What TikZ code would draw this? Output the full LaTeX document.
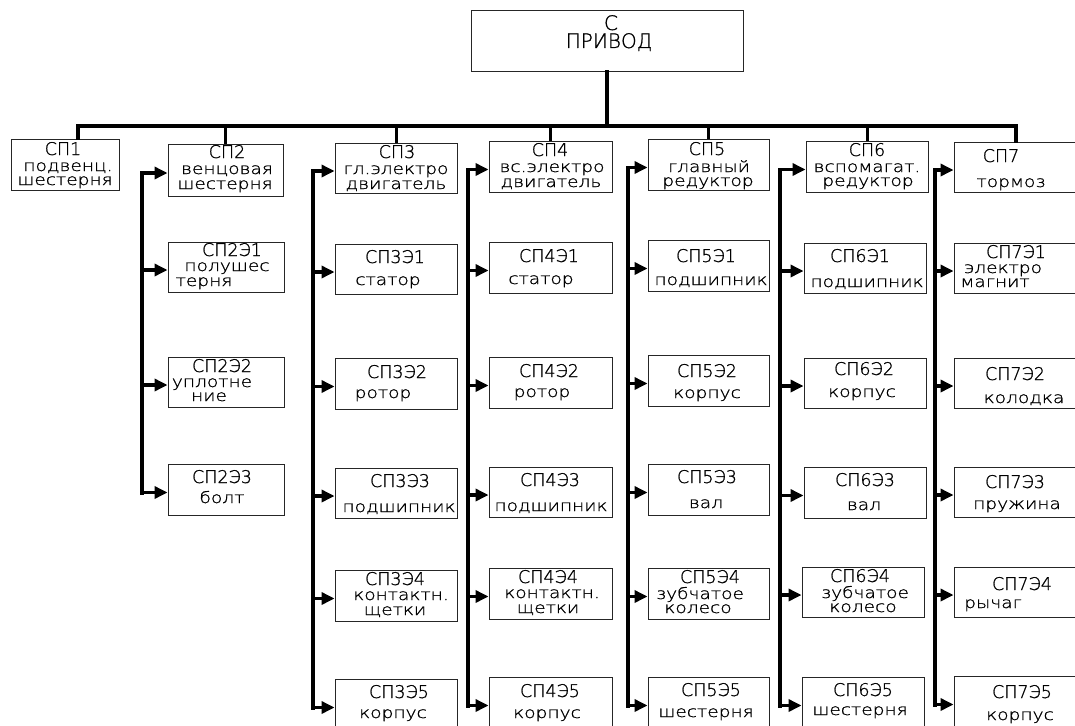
\documentclass[tikz,border=0pt]{standalone}
\usepackage{fontspec}
\usetikzlibrary{arrows.meta}
\newfontfamily\capfont{DejaVuSans-ExtraLight.ttf}[FakeBold=1]
\newfontfamily\smallfont{DejaVuSans-ExtraLight.ttf}[FakeStretch=1.2,FakeBold=1]

\tikzset{
  box/.style={draw=black!85, line width=0.9pt, rectangle, inner sep=0pt},
  code/.style={anchor=base, inner sep=0pt, font=\capfont\fontsize{17.5}{17.5}\selectfont},
  low/.style={anchor=base, inner sep=0pt, font=\smallfont\fontsize{15.5}{15.5}\selectfont},
  title/.style={anchor=base, inner sep=0pt, font=\capfont\fontsize{20}{20}\selectfont},
  bus/.style={line width=3.5pt, line cap=rect},
  trunk/.style={line width=4pt, line cap=rect},
  feed/.style={line width=3.5pt, -{Triangle[length=13pt,width=12pt]}}
}

% box node from its corners: name, x1, y1, x2, y2
\newcommand\blk[5]{\node[box, minimum width={(#4-#2)*1pt}, minimum height={(#5-#3)*1pt}] (#1) at ({(#2+#4)/2},{(#3+#5)/2}) {};}
% arrow from a column trunk to a box
\newcommand\feed[2]{\draw[feed] ([yshift=-3pt]#2.west -| #1) -- ([yshift=-3pt]#2.west);}
% column trunk from the first to the last box
\newcommand\trunkline[3]{\draw[trunk] ([yshift=-3pt]#2.west -| #1) -- ([yshift=-3pt]#3.west -| #1);}

\begin{document}
\begin{tikzpicture}[x=1pt, y=-1pt]
\fill[white] (0,0) rectangle (1075,725);
\useasboundingbox (0,0) rectangle (1075,725);

% root
\blk{root}{471}{10}{743}{71}
\node[title] (roota) at (611,30) {С};
\node[title] (rootb) at (609,48) {ПРИВОД};

% first level
\blk{b1}{11}{139}{119}{190}
\node[code] (b1a) at (63,155) {СП1};
\node[low] (b1b) at (68,171) {подвенц.};
\node[low] (b1c) at (65,185) {шестерня};

\blk{b2}{168}{144}{283}{196}
\node[code] (b2a) at (227,158) {СП2};
\node[low] (b2b) at (227,174) {венцовая};
\node[low] (b2c) at (225,189) {шестерня};

\blk{b3}{335}{143}{457}{193}
\node[code] (b3a) at (397,158) {СП3};
\node[low] (b3b) at (396,174) {гл.электро};
\node[low] (b3c) at (396,189) {двигатель};

\blk{b4}{489}{141}{612}{192}
\node[code] (b4a) at (550,156) {СП4};
\node[low] (b4b) at (552,172) {вс.электро};
\node[low] (b4c) at (551,187) {двигатель};

\blk{b5}{648}{139}{769}{190}
\node[code] (b5a) at (707,155) {СП5};
\node[low] (b5b) at (709,172) {главный};
\node[low] (b5c) at (708,186) {редуктор};

\blk{b6}{806}{141}{928}{192}
\node[code] (b6a) at (867,156) {СП6};
\node[low] (b6b) at (867,172) {вспомагат.};
\node[low] (b6c) at (868,186) {редуктор};

\blk{b7}{954}{142}{1078}{192}
\node[code] (b7a) at (1001,162) {СП7};
\node[low] (b7b) at (1011,187) {тормоз};

% row 1
\blk{b21}{168}{242}{284}{292}
\node[code] (b21a) at (232,256) {СП2Э1};
\node[low] (b21b) at (227,271) {полушес};
\node[low] (b21c) at (204,286) {терня};

\blk{b31}{335}{244}{457}{294}
\node[code] (b31a) at (395,263) {СП3Э1};
\node[low] (b31b) at (388,285) {статор};

\blk{b41}{489}{242}{612}{293}
\node[code] (b41a) at (549,262) {СП4Э1};
\node[low] (b41b) at (541,284) {статор};

\blk{b51}{648}{240}{769}{291}
\node[code] (b51a) at (706,262) {СП5Э1};
\node[low] (b51b) at (711,285) {подшипник};

\blk{b61}{804}{243}{926}{293}
\node[code] (b61a) at (860,262) {СП6Э1};
\node[low] (b61b) at (867,287) {подшипник};

\blk{b71}{954}{243}{1078}{293}
\node[code] (b71a) at (1016,258) {СП7Э1};
\node[low] (b71b) at (1003,273) {электро};
\node[low] (b71c) at (995,287) {магнит};

% row 2
\blk{b22}{168}{357}{284}{407}
\node[code] (b22a) at (222,372) {СП2Э2};
\node[low] (b22b) at (212,387) {уплотне};
\node[low] (b22c) at (209,401) {ние};

\blk{b32}{335}{358}{457}{409}
\node[code] (b32a) at (397,378) {СП3Э2};
\node[low] (b32b) at (383,398) {ротор};

\blk{b42}{489}{357}{612}{408}
\node[code] (b42a) at (549,377) {СП4Э2};
\node[low] (b42b) at (542,397) {ротор};

\blk{b52}{648}{355}{769}{406}
\node[code] (b52a) at (707,377) {СП5Э2};
\node[low] (b52b) at (707,398) {корпус};

\blk{b62}{804}{358}{926}{408}
\node[code] (b62a) at (864,375) {СП6Э2};
\node[low] (b62b) at (862,397) {корпус};

\blk{b72}{954}{358}{1078}{408}
\node[code] (b72a) at (1015,380) {СП7Э2};
\node[low] (b72b) at (1024,403) {колодка};

% row 3
\blk{b23}{168}{464}{284}{515}
\node[code] (b23a) at (222,483) {СП2Э3};
\node[low] (b23b) at (222,503) {болт};

\blk{b33}{335}{468}{457}{518}
\node[code] (b33a) at (400,487) {СП3Э3};
\node[low] (b33b) at (399,512) {подшипник};

\blk{b43}{489}{467}{612}{517}
\node[code] (b43a) at (550,486) {СП4Э3};
\node[low] (b43b) at (551,511) {подшипник};

\blk{b53}{648}{464}{769}{515}
\node[code] (b53a) at (707,483) {СП5Э3};
\node[low] (b53b) at (706,508) {вал};

\blk{b63}{804}{467}{926}{518}
\node[code] (b63a) at (865,486) {СП6Э3};
\node[low] (b63b) at (864,510) {вал};

\blk{b73}{954}{467}{1078}{517}
\node[code] (b73a) at (1015,488) {СП7Э3};
\node[low] (b73b) at (1017,509) {пружина};

% row 4
\blk{b34}{335}{570}{457}{621}
\node[code] (b34a) at (395,585) {СП3Э4};
\node[low] (b34b) at (401,600) {контактн.};
\node[low] (b34c) at (395,615) {щетки};

\blk{b44}{489}{568}{612}{619}
\node[code] (b44a) at (548,583) {СП4Э4};
\node[low] (b44b) at (552,598) {контактн.};
\node[low] (b44c) at (548,613) {щетки};

\blk{b54}{648}{568}{769}{619}
\node[code] (b54a) at (710,583) {СП5Э4};
\node[low] (b54b) at (700,599) {зубчатое};
\node[low] (b54c) at (698,613) {колесо};

\blk{b64}{802}{567}{924}{617}
\node[code] (b64a) at (860,582) {СП6Э4};
\node[low] (b64b) at (865,598) {зубчатое};
\node[low] (b64c) at (863,612) {колесо};

\blk{b74}{954}{567}{1078}{617}
\node[code] (b74a) at (1022,590) {СП7Э4};
\node[low] (b74b) at (993,608) {рычаг};

% row 5
\blk{b35}{335}{679}{457}{730}
\node[code] (b35a) at (399,698) {СП3Э5};
\node[low] (b35b) at (393,718) {корпус};

\blk{b45}{489}{677}{612}{728}
\node[code] (b45a) at (550,697) {СП4Э5};
\node[low] (b45b) at (547,718) {корпус};

\blk{b55}{648}{677}{769}{728}
\node[code] (b55a) at (711,696) {СП5Э5};
\node[low] (b55b) at (706,717) {шестерня};

\blk{b65}{802}{677}{924}{728}
\node[code] (b65a) at (863,696) {СП6Э5};
\node[low] (b65b) at (860,715) {шестерня};

\blk{b75}{954}{676}{1078}{727}
\node[code] (b75a) at (1022,698) {СП7Э5};
\node[low] (b75b) at (1020,720) {корпус};

% main bus
\coordinate (busy) at (0,126);
\draw[bus] (root.south) -- (root.south |- busy);
\draw[bus] ([xshift=13pt]b1.north) -- ([xshift=13pt]b1.north |- busy) -- (b7.north |- busy) -- (b7.north);
\foreach \b in {b2,b3,b4,b5,b6}
  \draw[line width=3pt] (\b.north |- busy) -- (\b.north);

% column trunks
\coordinate (c2) at (142,0);
\coordinate (c3) at (313,0);
\coordinate (c4) at (468,0);
\coordinate (c5) at (628,0);
\coordinate (c6) at (780,0);
\coordinate (c7) at (935,0);

\trunkline{c2}{b2}{b23}
\trunkline{c3}{b3}{b35}
\trunkline{c4}{b4}{b45}
\trunkline{c5}{b5}{b55}
\trunkline{c6}{b6}{b65}
\trunkline{c7}{b7}{b75}

\foreach \b in {b2,b21,b22,b23} {\feed{c2}{\b}}
\foreach \b in {b3,b31,b32,b33,b34,b35} {\feed{c3}{\b}}
\foreach \b in {b4,b41,b42,b43,b44,b45} {\feed{c4}{\b}}
\foreach \b in {b5,b51,b52,b53,b54,b55} {\feed{c5}{\b}}
\foreach \b in {b6,b61,b62,b63,b64,b65} {\feed{c6}{\b}}
\foreach \b in {b7,b71,b72,b73,b74,b75} {\feed{c7}{\b}}
\end{tikzpicture}
\end{document}
